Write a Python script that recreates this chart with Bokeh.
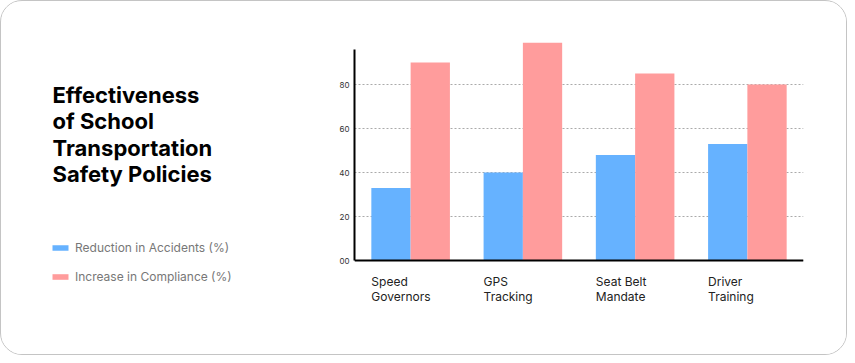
from bokeh.plotting import figure
from bokeh.models import (ColumnDataSource, Range1d, FixedTicker, Legend, LegendItem, Span)
from bokeh.layouts import row
from bokeh.transform import dodge
from bokeh.core.properties import value
from bokeh.embed import file_html
from bokeh.resources import INLINE

# ---- data ----
categories = ["Speed Governors", "GPS Tracking", "Seat Belt Mandate", "Driver Training"]
tick_line1 = ["Speed", "GPS", "Seat Belt", "Driver"]
tick_line2 = ["Governors", "Tracking", "Mandate", "Training"]
reduction = [33, 40, 48, 53]
compliance = [90, 99, 85, 80]
y_ticks = [0, 20, 40, 60, 80]
series_names = ["Reduction in Accidents (%)", "Increase in Compliance (%)"]
title_lines = ["Effectiveness", "of School", "Transportation", "Safety Policies"]

BLUE = "#66B2FF"
PINK = "#FF9C9C"
FONT = "Inter"

src = ColumnDataSource(dict(idx=list(range(len(categories))), cat=categories,
                            line1=tick_line1, line2=tick_line2,
                            reduction=reduction, compliance=compliance))

H = 353
WL, WR = 300, 545
BT, BB = 39, 39  # shared top/bottom borders (frames are aligned in the row)

# ---------------- left panel: title + legend ----------------
pl = figure(width=WL, height=H, output_backend="svg", toolbar_location=None,
            x_range=Range1d(0, WL), y_range=Range1d(H - BB, BT),
            x_axis_type=None, y_axis_type=None,
            min_border_left=0, min_border_right=0, min_border_top=BT, min_border_bottom=BB,
            background_fill_color="white", border_fill_color="white")
pl.outline_line_color = None
pl.grid.visible = False

tsrc = ColumnDataSource(dict(text=title_lines,
                             x=[51] * len(title_lines),
                             y=[93.7 + 26.2 * i for i in range(len(title_lines))]))
pl.text(x="x", y="y", text="text", source=tsrc, text_font=value(FONT),
        text_font_size="22px", text_font_style="bold", text_color="#000000",
        text_baseline="alphabetic", text_align="left")

lr1 = pl.vbar(x="idx", top="reduction", width=0.35, source=src,
              fill_color=BLUE, line_color=None, visible=False)
lr2 = pl.vbar(x="idx", top="compliance", width=0.35, source=src,
              fill_color=PINK, line_color=None, visible=False)
legend = Legend(items=[LegendItem(label=series_names[0], renderers=[lr1]),
                       LegendItem(label=series_names[1], renderers=[lr2])],
                location=(49, 30), orientation="vertical",
                glyph_width=20, glyph_height=7, label_height=18, spacing=11,
                label_standoff=5, padding=0, margin=0,
                label_text_font=FONT, label_text_font_size="12px",
                label_text_color="#777777",
                border_line_color=None, background_fill_alpha=0)
pl.add_layout(legend, "center")

# ---------------- right panel: chart ----------------
pr = figure(width=WR, height=H, output_backend="svg", toolbar_location=None,
            x_range=Range1d(-0.15, len(categories) - 0.15), y_range=Range1d(-25, 100),
            min_border_left=53, min_border_right=43, min_border_top=BT, min_border_bottom=BB,
            background_fill_color="white", border_fill_color="white")
pr.outline_line_color = None

bw = 0.35
pr.vbar(x=dodge("idx", bw / 2, range=pr.x_range), top="reduction", width=bw, source=src,
        fill_color=BLUE, line_color=None)
pr.vbar(x=dodge("idx", bw * 1.5, range=pr.x_range), top="compliance", width=bw, source=src,
        fill_color=PINK, line_color=None)

pr.xaxis.visible = False
pr.add_layout(Span(location=0, dimension="width", line_color="black", line_width=2))

# category labels (two lines, left-aligned at the group's left edge)
pr.text(x="idx", y=-9.4, text="line1", source=src, text_font=value(FONT),
        text_font_size="12px", text_color="#222222", text_baseline="alphabetic",
        text_align="left")
pr.text(x="idx", y=-16.2, text="line2", source=src, text_font=value(FONT),
        text_font_size="12px", text_color="#222222", text_baseline="alphabetic",
        text_align="left")

ya = pr.yaxis[0]
ya.ticker = FixedTicker(ticks=y_ticks)
ya.major_label_overrides = {0: "00"}
ya.bounds = (0, 96)
ya.major_label_text_font = FONT
ya.major_label_text_font_size = "8px"
ya.major_label_text_color = "#333333"
ya.major_label_standoff = 5
ya.major_tick_out = 0
ya.major_tick_in = 0
ya.minor_tick_out = 0
ya.minor_tick_in = 0
ya.axis_line_color = "black"
ya.axis_line_width = 2

pr.xgrid.grid_line_color = None
pr.ygrid.grid_line_color = "#aaaaaa"
pr.ygrid.grid_line_dash = "2 2"
pr.ygrid.grid_line_width = 1

layout = row(pl, pr, spacing=0,
             styles={"border": "1px solid #c4c4c4", "border-radius": "22px",
                     "overflow": "hidden", "background-color": "white"})

open("out.html", "w").write(file_html(layout, INLINE))
